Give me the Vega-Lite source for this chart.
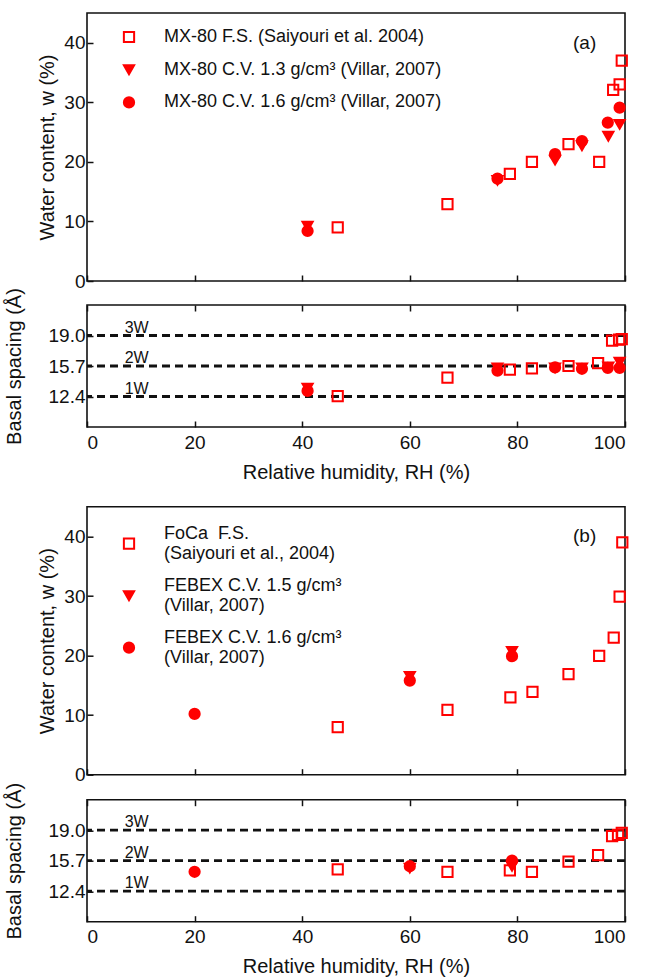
{
  "$schema": "https://vega.github.io/schema/vega-lite/v6.json",
  "background": "white",
  "padding": {"left": 3, "top": 12, "right": 5, "bottom": 5},
  "config": {
    "font": "Liberation Sans",
    "view": {"stroke": "#111", "strokeWidth": 1.6},
    "axis": {"domain": false, "grid": false, "tickColor": "#111", "tickWidth": 1.5, "tickSize": -6, "labelFontSize": 19, "labelColor": "#111", "titleFontSize": 20, "titleFontWeight": "normal", "titleColor": "#111", "labelPadding": 8},
    "legend": {"labelFont": "Liberation Sans", "labelFontSize": 18, "labelColor": "#111", "labelLimit": 500, "padding": 0}
  },
  "datasets": {
    "wa": [
      {"s": "MX-80 F.S. (Saiyouri et al. 2004)", "rh": 46.6, "w": 9.0},
      {"s": "MX-80 F.S. (Saiyouri et al. 2004)", "rh": 67.0, "w": 12.9},
      {"s": "MX-80 F.S. (Saiyouri et al. 2004)", "rh": 78.6, "w": 18.0},
      {"s": "MX-80 F.S. (Saiyouri et al. 2004)", "rh": 82.7, "w": 20.0},
      {"s": "MX-80 F.S. (Saiyouri et al. 2004)", "rh": 89.5, "w": 23.0},
      {"s": "MX-80 F.S. (Saiyouri et al. 2004)", "rh": 95.2, "w": 20.0},
      {"s": "MX-80 F.S. (Saiyouri et al. 2004)", "rh": 97.8, "w": 32.1},
      {"s": "MX-80 F.S. (Saiyouri et al. 2004)", "rh": 99.0, "w": 33.0},
      {"s": "MX-80 F.S. (Saiyouri et al. 2004)", "rh": 99.4, "w": 37.0},
      {"s": "MX-80 C.V. 1.3 g/cm³ (Villar, 2007)", "rh": 41.0, "w": 9.2},
      {"s": "MX-80 C.V. 1.3 g/cm³ (Villar, 2007)", "rh": 76.3, "w": 16.9},
      {"s": "MX-80 C.V. 1.3 g/cm³ (Villar, 2007)", "rh": 87.0, "w": 20.3},
      {"s": "MX-80 C.V. 1.3 g/cm³ (Villar, 2007)", "rh": 92.0, "w": 22.7},
      {"s": "MX-80 C.V. 1.3 g/cm³ (Villar, 2007)", "rh": 96.9, "w": 24.3},
      {"s": "MX-80 C.V. 1.3 g/cm³ (Villar, 2007)", "rh": 99.0, "w": 26.3},
      {"s": "MX-80 C.V. 1.6 g/cm³ (Villar, 2007)", "rh": 41.0, "w": 8.4},
      {"s": "MX-80 C.V. 1.6 g/cm³ (Villar, 2007)", "rh": 76.3, "w": 17.2},
      {"s": "MX-80 C.V. 1.6 g/cm³ (Villar, 2007)", "rh": 87.0, "w": 21.3},
      {"s": "MX-80 C.V. 1.6 g/cm³ (Villar, 2007)", "rh": 92.0, "w": 23.5},
      {"s": "MX-80 C.V. 1.6 g/cm³ (Villar, 2007)", "rh": 96.8, "w": 26.6},
      {"s": "MX-80 C.V. 1.6 g/cm³ (Villar, 2007)", "rh": 99.0, "w": 29.1}
    ],
    "ba": [
      {"s": "MX-80 F.S. (Saiyouri et al. 2004)", "rh": 46.6, "d": 12.45},
      {"s": "MX-80 F.S. (Saiyouri et al. 2004)", "rh": 67.0, "d": 14.45},
      {"s": "MX-80 F.S. (Saiyouri et al. 2004)", "rh": 78.6, "d": 15.3},
      {"s": "MX-80 F.S. (Saiyouri et al. 2004)", "rh": 82.7, "d": 15.45},
      {"s": "MX-80 F.S. (Saiyouri et al. 2004)", "rh": 89.5, "d": 15.7},
      {"s": "MX-80 F.S. (Saiyouri et al. 2004)", "rh": 95.0, "d": 16.0},
      {"s": "MX-80 F.S. (Saiyouri et al. 2004)", "rh": 97.6, "d": 18.45},
      {"s": "MX-80 F.S. (Saiyouri et al. 2004)", "rh": 98.9, "d": 18.55},
      {"s": "MX-80 F.S. (Saiyouri et al. 2004)", "rh": 99.4, "d": 18.6},
      {"s": "MX-80 C.V. 1.3 g/cm³ (Villar, 2007)", "rh": 41.0, "d": 13.3},
      {"s": "MX-80 C.V. 1.3 g/cm³ (Villar, 2007)", "rh": 76.3, "d": 15.5},
      {"s": "MX-80 C.V. 1.3 g/cm³ (Villar, 2007)", "rh": 87.0, "d": 15.5},
      {"s": "MX-80 C.V. 1.3 g/cm³ (Villar, 2007)", "rh": 92.0, "d": 15.5},
      {"s": "MX-80 C.V. 1.3 g/cm³ (Villar, 2007)", "rh": 96.9, "d": 15.6},
      {"s": "MX-80 C.V. 1.3 g/cm³ (Villar, 2007)", "rh": 99.0, "d": 16.1},
      {"s": "MX-80 C.V. 1.6 g/cm³ (Villar, 2007)", "rh": 41.0, "d": 13.0},
      {"s": "MX-80 C.V. 1.6 g/cm³ (Villar, 2007)", "rh": 76.3, "d": 15.2},
      {"s": "MX-80 C.V. 1.6 g/cm³ (Villar, 2007)", "rh": 87.0, "d": 15.55},
      {"s": "MX-80 C.V. 1.6 g/cm³ (Villar, 2007)", "rh": 92.0, "d": 15.4},
      {"s": "MX-80 C.V. 1.6 g/cm³ (Villar, 2007)", "rh": 96.8, "d": 15.5},
      {"s": "MX-80 C.V. 1.6 g/cm³ (Villar, 2007)", "rh": 99.0, "d": 15.5}
    ],
    "wb": [
      {"s": "FoCa  F.S.| (Saiyouri et al., 2004)", "rh": 46.6, "w": 8.0},
      {"s": "FoCa  F.S.| (Saiyouri et al., 2004)", "rh": 67.0, "w": 10.9},
      {"s": "FoCa  F.S.| (Saiyouri et al., 2004)", "rh": 78.7, "w": 13.0},
      {"s": "FoCa  F.S.| (Saiyouri et al., 2004)", "rh": 82.8, "w": 13.9},
      {"s": "FoCa  F.S.| (Saiyouri et al., 2004)", "rh": 89.5, "w": 16.9},
      {"s": "FoCa  F.S.| (Saiyouri et al., 2004)", "rh": 95.2, "w": 19.95},
      {"s": "FoCa  F.S.| (Saiyouri et al., 2004)", "rh": 97.9, "w": 23.0},
      {"s": "FoCa  F.S.| (Saiyouri et al., 2004)", "rh": 99.0, "w": 29.9},
      {"s": "FoCa  F.S.| (Saiyouri et al., 2004)", "rh": 99.5, "w": 39.0},
      {"s": "FEBEX C.V. 1.5 g/cm³| (Villar, 2007)", "rh": 60.0, "w": 16.5},
      {"s": "FEBEX C.V. 1.5 g/cm³| (Villar, 2007)", "rh": 79.0, "w": 20.7},
      {"s": "FEBEX C.V. 1.6 g/cm³| (Villar, 2007)", "rh": 20.0, "w": 10.2},
      {"s": "FEBEX C.V. 1.6 g/cm³| (Villar, 2007)", "rh": 60.0, "w": 15.8},
      {"s": "FEBEX C.V. 1.6 g/cm³| (Villar, 2007)", "rh": 79.0, "w": 19.9}
    ],
    "bb": [
      {"s": "FoCa  F.S.| (Saiyouri et al., 2004)", "rh": 46.6, "d": 14.75},
      {"s": "FoCa  F.S.| (Saiyouri et al., 2004)", "rh": 67.0, "d": 14.5},
      {"s": "FoCa  F.S.| (Saiyouri et al., 2004)", "rh": 78.6, "d": 14.65},
      {"s": "FoCa  F.S.| (Saiyouri et al., 2004)", "rh": 82.7, "d": 14.5},
      {"s": "FoCa  F.S.| (Saiyouri et al., 2004)", "rh": 89.5, "d": 15.6},
      {"s": "FoCa  F.S.| (Saiyouri et al., 2004)", "rh": 95.0, "d": 16.3},
      {"s": "FoCa  F.S.| (Saiyouri et al., 2004)", "rh": 97.6, "d": 18.35},
      {"s": "FoCa  F.S.| (Saiyouri et al., 2004)", "rh": 98.7, "d": 18.5},
      {"s": "FoCa  F.S.| (Saiyouri et al., 2004)", "rh": 99.4, "d": 18.7},
      {"s": "FEBEX C.V. 1.5 g/cm³| (Villar, 2007)", "rh": 60.0, "d": 14.9},
      {"s": "FEBEX C.V. 1.5 g/cm³| (Villar, 2007)", "rh": 79.0, "d": 15.1},
      {"s": "FEBEX C.V. 1.6 g/cm³| (Villar, 2007)", "rh": 20.0, "d": 14.5},
      {"s": "FEBEX C.V. 1.6 g/cm³| (Villar, 2007)", "rh": 60.0, "d": 15.1},
      {"s": "FEBEX C.V. 1.6 g/cm³| (Villar, 2007)", "rh": 79.0, "d": 15.7}
    ],
    "levels": [
      {"d": 12.4, "lab": "1W"},
      {"d": 15.7, "lab": "2W"},
      {"d": 19.0, "lab": "3W"}
    ],
    "tags": [
      {"panel": "a", "rh": 92.5, "w": 40, "lab": "(a)"},
      {"panel": "b", "rh": 92.5, "w": 40, "lab": "(b)"}
    ]
  },
  "resolve": {"scale": {"shape": "independent", "fill": "independent", "stroke": "independent"}, "legend": {"shape": "independent", "fill": "independent", "stroke": "independent"}},
  "spacing": 22.7,
  "vconcat": [
    {
      "bounds": "flush",
      "spacing": 24,
      "resolve": {"scale": {"shape": "independent", "fill": "independent", "stroke": "independent"}, "legend": {"shape": "independent", "fill": "independent", "stroke": "independent"}},
      "vconcat": [
        {
          "width": 538, "height": 268,
          "resolve": {"axis": {"x": "independent", "y": "independent"}},
          "layer": [
            {
              "data": {"name": "wa"},
              "mark": {"type": "point", "size": 105, "strokeWidth": 2, "opacity": 1},
              "encoding": {
                "x": {"field": "rh", "type": "quantitative", "scale": {"domain": [0, 100], "nice": false}, "axis": {"orient": "bottom", "values": [0, 20, 40, 60, 80, 100], "labels": false, "title": null}},
                "y": {"field": "w", "type": "quantitative", "scale": {"domain": [0, 45], "nice": false}, "axis": {"orient": "left", "values": [0, 10, 20, 30, 40], "title": "Water content, w (%)", "titlePadding": 6}},
                "shape": {"field": "s", "type": "nominal", "sort": null,
                  "scale": {"domain": ["MX-80 F.S. (Saiyouri et al. 2004)", "MX-80 C.V. 1.3 g/cm³ (Villar, 2007)", "MX-80 C.V. 1.6 g/cm³ (Villar, 2007)"], "range": ["square", "triangle-down", "circle"]},
                  "legend": {"orient": "none", "legendX": 33, "legendY": 15, "title": null, "symbolSize": 105, "symbolStrokeWidth": 2, "rowPadding": 13.7, "labelOffset": 26}},
                "fill": {"field": "s", "type": "nominal", "sort": null,
                  "scale": {"domain": ["MX-80 F.S. (Saiyouri et al. 2004)", "MX-80 C.V. 1.3 g/cm³ (Villar, 2007)", "MX-80 C.V. 1.6 g/cm³ (Villar, 2007)"], "range": ["transparent", "red", "red"]},
                  "legend": {"orient": "none", "legendX": 33, "legendY": 15, "title": null, "symbolSize": 105, "symbolStrokeWidth": 2, "rowPadding": 13.7, "labelOffset": 26}},
                "stroke": {"field": "s", "type": "nominal", "sort": null,
                  "scale": {"domain": ["MX-80 F.S. (Saiyouri et al. 2004)", "MX-80 C.V. 1.3 g/cm³ (Villar, 2007)", "MX-80 C.V. 1.6 g/cm³ (Villar, 2007)"], "range": ["red", "red", "red"]},
                  "legend": {"orient": "none", "legendX": 33, "legendY": 15, "title": null, "symbolSize": 105, "symbolStrokeWidth": 2, "rowPadding": 13.7, "labelOffset": 26}}
              }
            },
            {
              "data": {"name": "tags"},
              "transform": [{"filter": "datum.panel == 'a'"}],
              "mark": {"type": "text", "fontSize": 19, "color": "#111", "baseline": "middle", "align": "center"},
              "encoding": {
                "x": {"field": "rh", "type": "quantitative", "axis": null},
                "y": {"field": "w", "type": "quantitative", "axis": null},
                "text": {"field": "lab"}
              }
            }
          ]
        },
        {
          "width": 538, "height": 122,
          "resolve": {"axis": {"x": "independent", "y": "independent"}},
          "layer": [
            {
              "data": {"name": "levels"},
              "mark": {"type": "rule", "strokeDash": [8, 5], "strokeWidth": 2.8, "color": "#111"},
              "encoding": {
                "y": {"field": "d", "type": "quantitative", "scale": {"domain": [9.1, 22.3], "nice": false, "zero": false}, "axis": null}
              }
            },
            {
              "data": {"name": "levels"},
              "mark": {"type": "text", "fontSize": 16, "color": "#111", "baseline": "alphabetic", "align": "center", "dy": -3},
              "encoding": {
                "x": {"datum": 9.24, "type": "quantitative", "axis": {"orient": "top", "values": [0, 20, 40, 60, 80, 100], "labels": false, "title": null}},
                "y": {"field": "d", "type": "quantitative", "axis": null},
                "text": {"field": "lab"}
              }
            },
            {
              "data": {"name": "ba"},
              "mark": {"type": "point", "size": 105, "strokeWidth": 2, "opacity": 1},
              "encoding": {
                "x": {"field": "rh", "type": "quantitative", "scale": {"domain": [0, 100], "nice": false}, "title": "Relative humidity, RH (%)", "axis": {"orient": "bottom", "values": [0, 20, 40, 60, 80, 100], "labelPadding": 12, "titlePadding": 10}},
                "y": {"field": "d", "type": "quantitative", "title": "Basal spacing (Å)", "axis": {"orient": "left", "values": [12.4, 15.7, 19.0], "format": ".1f", "titlePadding": 24}},
                "shape": {"field": "s", "type": "nominal", "legend": null,
                  "scale": {"domain": ["MX-80 F.S. (Saiyouri et al. 2004)", "MX-80 C.V. 1.3 g/cm³ (Villar, 2007)", "MX-80 C.V. 1.6 g/cm³ (Villar, 2007)"], "range": ["square", "triangle-down", "circle"]}},
                "fill": {"field": "s", "type": "nominal", "legend": null,
                  "scale": {"domain": ["MX-80 F.S. (Saiyouri et al. 2004)", "MX-80 C.V. 1.3 g/cm³ (Villar, 2007)", "MX-80 C.V. 1.6 g/cm³ (Villar, 2007)"], "range": ["transparent", "red", "red"]}},
                "stroke": {"field": "s", "type": "nominal", "legend": null,
                  "scale": {"domain": ["MX-80 F.S. (Saiyouri et al. 2004)", "MX-80 C.V. 1.3 g/cm³ (Villar, 2007)", "MX-80 C.V. 1.6 g/cm³ (Villar, 2007)"], "range": ["red", "red", "red"]}}
              }
            }
          ]
        }
      ]
    },
    {
      "bounds": "flush",
      "spacing": 25,
      "resolve": {"scale": {"shape": "independent", "fill": "independent", "stroke": "independent"}, "legend": {"shape": "independent", "fill": "independent", "stroke": "independent"}},
      "vconcat": [
        {
          "width": 538, "height": 268,
          "resolve": {"axis": {"x": "independent", "y": "independent"}},
          "layer": [
            {
              "data": {"name": "wb"},
              "mark": {"type": "point", "size": 105, "strokeWidth": 2, "opacity": 1},
              "encoding": {
                "x": {"field": "rh", "type": "quantitative", "scale": {"domain": [0, 100], "nice": false}, "axis": {"orient": "bottom", "values": [0, 20, 40, 60, 80, 100], "labels": false, "title": null}},
                "y": {"field": "w", "type": "quantitative", "scale": {"domain": [0, 45], "nice": false}, "axis": {"orient": "left", "values": [0, 10, 20, 30, 40], "title": "Water content, w (%)", "titlePadding": 6}},
                "shape": {"field": "s", "type": "nominal", "sort": null,
                  "scale": {"domain": ["FoCa  F.S.| (Saiyouri et al., 2004)", "FEBEX C.V. 1.5 g/cm³| (Villar, 2007)", "FEBEX C.V. 1.6 g/cm³| (Villar, 2007)"], "range": ["square", "triangle-down", "circle"]},
                  "legend": {"orient": "none", "legendX": 33, "legendY": 28, "title": null, "symbolSize": 105, "symbolStrokeWidth": 2, "rowPadding": 14, "labelOffset": 26, "labelBaseline": "line-bottom", "labelExpr": "split(replace(replace(datum.label, '  ', '\u00a0 '), '| ', '|\u00a0'), '|')"}},
                "fill": {"field": "s", "type": "nominal", "sort": null,
                  "scale": {"domain": ["FoCa  F.S.| (Saiyouri et al., 2004)", "FEBEX C.V. 1.5 g/cm³| (Villar, 2007)", "FEBEX C.V. 1.6 g/cm³| (Villar, 2007)"], "range": ["transparent", "red", "red"]},
                  "legend": {"orient": "none", "legendX": 33, "legendY": 28, "title": null, "symbolSize": 105, "symbolStrokeWidth": 2, "rowPadding": 14, "labelOffset": 26, "labelBaseline": "line-bottom", "labelExpr": "split(replace(replace(datum.label, '  ', '\u00a0 '), '| ', '|\u00a0'), '|')"}},
                "stroke": {"field": "s", "type": "nominal", "sort": null,
                  "scale": {"domain": ["FoCa  F.S.| (Saiyouri et al., 2004)", "FEBEX C.V. 1.5 g/cm³| (Villar, 2007)", "FEBEX C.V. 1.6 g/cm³| (Villar, 2007)"], "range": ["red", "red", "red"]},
                  "legend": {"orient": "none", "legendX": 33, "legendY": 28, "title": null, "symbolSize": 105, "symbolStrokeWidth": 2, "rowPadding": 14, "labelOffset": 26, "labelBaseline": "line-bottom", "labelExpr": "split(replace(replace(datum.label, '  ', '\u00a0 '), '| ', '|\u00a0'), '|')"}}
              }
            },
            {
              "data": {"name": "tags"},
              "transform": [{"filter": "datum.panel == 'b'"}],
              "mark": {"type": "text", "fontSize": 19, "color": "#111", "baseline": "middle", "align": "center"},
              "encoding": {
                "x": {"field": "rh", "type": "quantitative", "axis": null},
                "y": {"field": "w", "type": "quantitative", "axis": null},
                "text": {"field": "lab"}
              }
            }
          ]
        },
        {
          "width": 538, "height": 122,
          "resolve": {"axis": {"x": "independent", "y": "independent"}},
          "layer": [
            {
              "data": {"name": "levels"},
              "mark": {"type": "rule", "strokeDash": [8, 5], "strokeWidth": 2.8, "color": "#111"},
              "encoding": {
                "y": {"field": "d", "type": "quantitative", "scale": {"domain": [9.1, 22.3], "nice": false, "zero": false}, "axis": null}
              }
            },
            {
              "data": {"name": "levels"},
              "mark": {"type": "text", "fontSize": 16, "color": "#111", "baseline": "alphabetic", "align": "center", "dy": -3},
              "encoding": {
                "x": {"datum": 9.24, "type": "quantitative", "axis": {"orient": "top", "values": [0, 20, 40, 60, 80, 100], "labels": false, "title": null}},
                "y": {"field": "d", "type": "quantitative", "axis": null},
                "text": {"field": "lab"}
              }
            },
            {
              "data": {"name": "bb"},
              "mark": {"type": "point", "size": 105, "strokeWidth": 2, "opacity": 1},
              "encoding": {
                "x": {"field": "rh", "type": "quantitative", "scale": {"domain": [0, 100], "nice": false}, "title": "Relative humidity, RH (%)", "axis": {"orient": "bottom", "values": [0, 20, 40, 60, 80, 100], "labelPadding": 12, "titlePadding": 10}},
                "y": {"field": "d", "type": "quantitative", "title": "Basal spacing (Å)", "axis": {"orient": "left", "values": [12.4, 15.7, 19.0], "format": ".1f", "titlePadding": 24}},
                "shape": {"field": "s", "type": "nominal", "legend": null,
                  "scale": {"domain": ["FoCa  F.S.| (Saiyouri et al., 2004)", "FEBEX C.V. 1.5 g/cm³| (Villar, 2007)", "FEBEX C.V. 1.6 g/cm³| (Villar, 2007)"], "range": ["square", "triangle-down", "circle"]}},
                "fill": {"field": "s", "type": "nominal", "legend": null,
                  "scale": {"domain": ["FoCa  F.S.| (Saiyouri et al., 2004)", "FEBEX C.V. 1.5 g/cm³| (Villar, 2007)", "FEBEX C.V. 1.6 g/cm³| (Villar, 2007)"], "range": ["transparent", "red", "red"]}},
                "stroke": {"field": "s", "type": "nominal", "legend": null,
                  "scale": {"domain": ["FoCa  F.S.| (Saiyouri et al., 2004)", "FEBEX C.V. 1.5 g/cm³| (Villar, 2007)", "FEBEX C.V. 1.6 g/cm³| (Villar, 2007)"], "range": ["red", "red", "red"]}}
              }
            }
          ]
        }
      ]
    }
  ]
}
